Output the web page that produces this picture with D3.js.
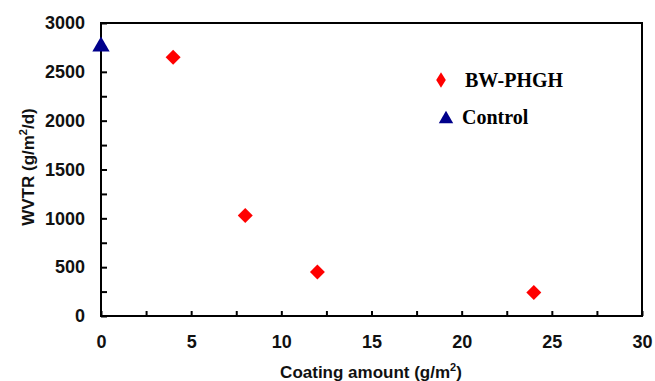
<!DOCTYPE html>
<html>
<head>
<meta charset="utf-8">
<script src="https://cdn.jsdelivr.net/npm/d3@7"></script>
<style>
  body { margin: 0; background: #fff; }
  text { font-family: 'Liberation Sans', Arial, sans-serif; font-weight: bold; }
</style>
</head>
<body>
<div id="chart"></div>
<script>
// data
const phghX = [4, 8, 12, 24];
const phghY = [2650, 1030, 450, 240];
const controlX = [0];
const controlY = [2780];
const xTicks = [0, 5, 10, 15, 20, 25, 30];
const yTicks = [0, 500, 1000, 1500, 2000, 2500, 3000];

const width = 655, height = 381;
const margin = { top: 23, right: 13, bottom: 65, left: 101 };
const w = width - margin.left - margin.right;
const h = height - margin.top - margin.bottom;

const x = d3.scaleLinear().domain([0, 30]).range([0, w]);
const y = d3.scaleLinear().domain([0, 3000]).range([h, 0]);

const svg = d3.select('#chart').append('svg')
    .attr('width', width)
    .attr('height', height);
const g = svg.append('g').attr('transform', `translate(${margin.left},${margin.top})`);

// frame
g.append('rect')
    .attr('width', w).attr('height', h)
    .attr('fill', 'none').attr('stroke', '#000').attr('stroke-width', 2);

// x axis, ticks pointing inward
const xAxis = g.append('g').attr('transform', `translate(0,${h})`)
    .call(d3.axisBottom(x).tickValues(d3.range(0, 30.01, 2.5)).tickSize(-5).tickPadding(19)
        .tickFormat(d => xTicks.includes(d) ? d : ''));
xAxis.select('.domain').remove();
xAxis.selectAll('line').attr('stroke-width', 2);
xAxis.selectAll('text').style('font-size', '18px').attr('fill', '#111');

// y axis
const yAxis = g.append('g')
    .call(d3.axisLeft(y).tickValues(d3.range(0, 3001, 250)).tickSize(-6).tickPadding(16)
        .tickFormat(d => yTicks.includes(d) ? d : ''));
yAxis.select('.domain').remove();
yAxis.selectAll('line').attr('stroke-width', 2);
yAxis.selectAll('text').style('font-size', '18px').attr('fill', '#111');

// axis labels
const xl = svg.append('text')
    .attr('x', 371).attr('y', 378)
    .attr('text-anchor', 'middle').style('font-size', '17px').attr('fill', '#111');
xl.append('tspan').text('Coating amount (g/m');
xl.append('tspan').attr('dy', -7).style('font-size', '11px').text('2');
xl.append('tspan').attr('dy', 7).text(')');

const yl = svg.append('text')
    .attr('transform', `translate(34,167) rotate(-90)`)
    .attr('text-anchor', 'middle').style('font-size', '17px').attr('fill', '#111');
yl.append('tspan').text('WVTR (g/m');
yl.append('tspan').attr('dy', -7).style('font-size', '11px').text('2');
yl.append('tspan').attr('dy', 7).text('/d)');

// markers: square turned 45 degrees for the diamonds
const diamond = d3.symbol().type(d3.symbolSquare).size(112);
const triangle = d3.symbol().type(d3.symbolTriangle).size(130);

g.selectAll('.phgh')
    .data(phghX.map((d, i) => [d, phghY[i]]))
    .enter().append('path')
    .attr('class', 'phgh')
    .attr('d', diamond)
    .attr('transform', d => `translate(${x(d[0])},${y(d[1])}) rotate(45)`)
    .attr('fill', '#ff0000');

g.selectAll('.control')
    .data(controlX.map((d, i) => [d, controlY[i]]))
    .enter().append('path')
    .attr('class', 'control')
    .attr('d', triangle)
    .attr('transform', d => `translate(${x(d[0])},${y(d[1]) + 2})`)
    .attr('fill', '#00008b');

// legend
const legend = svg.append('g');
legend.append('path').attr('d', d3.symbol().type(d3.symbolSquare).size(64))
    .attr('transform', 'translate(441,80) scale(0.85,1.35) rotate(45)').attr('fill', '#ff0000');
legend.append('text').attr('x', 465).attr('y', 87)
    .style('font-family', "'Liberation Serif', 'Times New Roman', serif")
    .style('font-size', '20px').text('BW-PHGH');
legend.append('path').attr('d', d3.symbol().type(d3.symbolTriangle).size(90))
    .attr('transform', 'translate(446,119)').attr('fill', '#00008b');
legend.append('text').attr('x', 462).attr('y', 124)
    .style('font-family', "'Liberation Serif', 'Times New Roman', serif")
    .style('font-size', '20px').text('Control');
</script>
</body>
</html>
